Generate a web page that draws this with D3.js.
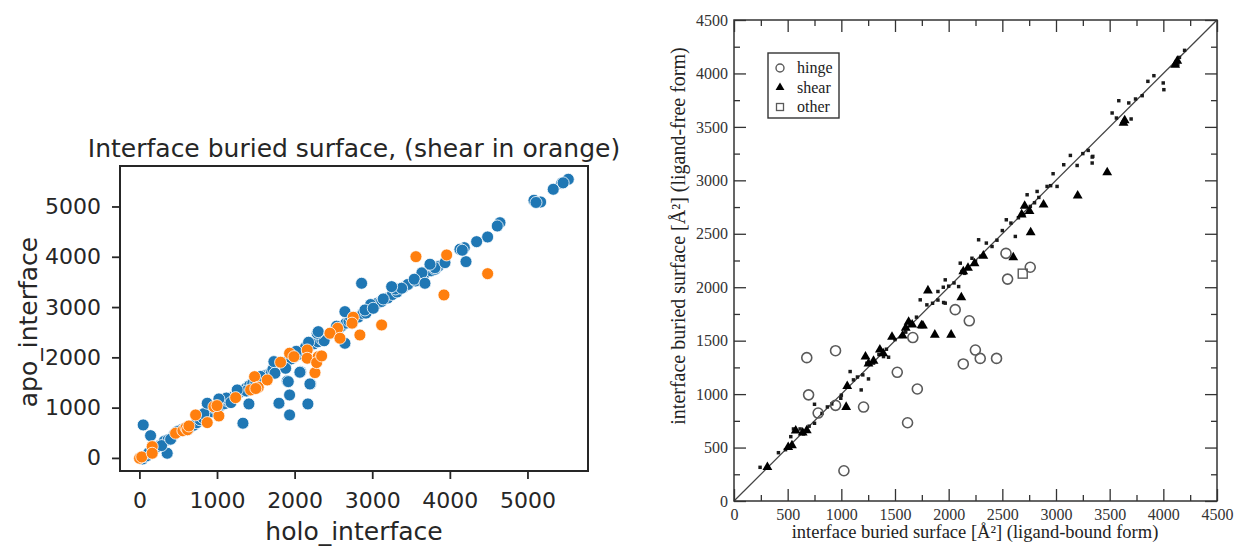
<!DOCTYPE html>
<html>
<head>
<meta charset="utf-8">
<script src="https://cdn.jsdelivr.net/npm/d3@7"></script>
<style>
  body { margin: 0; background: #fff; }
  svg { display: block; }
</style>
</head>
<body>
<svg width="1237" height="546"></svg>
<script>
// ---- left panel data: [holo_interface, apo_interface] ----
var blueBand = [
  [20,10],[40,-20],[60,30],[90,40],[120,100],[180,170],[230,220],[280,260],[320,330],[370,360],
  [410,380],[450,470],[500,520],[540,560],[580,580],[620,560],[650,600],[700,650],[740,700],[780,760],
  [820,800],[860,850],[900,900],[940,920],[980,980],[1020,1030],[1060,1050],[1100,1080],[1140,1130],[1180,1170],
  [1220,1230],[1260,1290],[1300,1310],[1340,1350],[1380,1390],[1420,1440],[1460,1480],[1500,1500],[1540,1560],[1580,1590],
  [1620,1640],[1660,1660],[1700,1700],[1760,1760],[1800,1820],[1850,1870],[1900,1910],[1960,1970],[2000,2010],[2050,2060],
  [2100,2120],[2140,2200],[2200,2230],[2250,2270],[2300,2310],[2350,2360],[2400,2420],[2450,2470],[2500,2500],[2560,2560],
  [2600,2620],[2660,2680],[2700,2720],[2760,2740],[2820,2800],[2880,2870],[2940,2930],[3000,2990],[3060,3070],[3120,3110],
  [3200,3180],[3260,3250],[3320,3300],[3400,3390],[3460,3450],[3560,3520],[3620,3620],[3700,3690],[3760,3720],[3850,3810],
  [1120,1190],[1380,1330],[1560,1620],[1720,1760],[2020,2120],[2180,2300],[2380,2330],[2540,2620],[2720,2800],[2980,3050],
  [3300,3360],[3640,3680],[2920,2880],[1180,1100],[830,880]
];
var blueOut = [
  [49,656],[144,443],[358,93],[286,245],[402,372],[487,523],[874,1087],[1024,1173],[1334,690],[1411,1074],
  [1798,1087],[1935,855],[1935,1252],[2171,1074],[1905,1531],[2077,1716],[2206,1471],[2291,2479],[1733,1915],[1260,1352],
  [1884,1783],[2863,3473],[2648,2909],[2648,2280],[2304,2511],[2906,2942],[3142,3161],[3379,3374],[3541,3553],[3679,3473],
  [3744,3837],[3808,3751],[3250,3406],[3013,2976],[1918,1517],[2197,1471],[2068,1704],[1746,1684],
  [5526,5541],[5441,5461],[5332,5342],[5084,5123],[5170,5089],[4646,4678],[4611,4612],[4487,4394],[4345,4300],[4186,4181],
  [4130,4149],[4208,3903],[3808,3783],[3744,3851],[3937,3883],[4160,4130],[5110,5080],[5460,5470]
];
var orangePts = [
  [2,-6],[30,20],[165,225],[165,93],[466,491],[560,540],[600,600],[620,560],[638,636],[724,855],
  [874,702],[960,1020],[1024,835],[1000,1040],[1240,1199],[1433,1352],[1484,1616],[1531,1406],[1500,1380],[1647,1551],
  [1819,1903],[1935,2082],[1991,2014],[2162,2147],[2162,1982],[2262,1696],[2304,2014],[2284,1895],[2348,2028],[3563,4002],
  [3959,4036],[3924,3241],[3121,2644],[2841,2445],[2755,2797],[2740,2680],[2554,2579],[2455,2479],[2584,2380],[4487,3664]
];
var leftTicks = [0, 1000, 2000, 3000, 4000, 5000];

// ---- right panel data: [ligand-bound, ligand-free] ----
var hingePts = [
  [678,1341],[946,1406],[695,993],[784,823],[946,895],[1207,879],[1024,283],[1521,1204],[1708,1048],[1617,732],
  [1666,1529],[2061,1790],[2192,1686],[2136,1282],[2249,1412],[2294,1334],[2446,1334],[2534,2317],[2549,2076],[2760,2187]
];
var shearPts = [
  [311,316],[505,504],[540,520],[575,657],[640,640],[678,660],[1055,1074],[1045,879],[1225,1350],[1253,1285],
  [1300,1310],[1359,1416],[1390,1380],[1472,1536],[1571,1546],[1600,1620],[1627,1676],[1660,1650],[1747,1643],[1760,1640],
  [1807,1969],[1871,1555],[2023,1555],[2118,1904],[2136,2148],[2180,2180],[2241,2223],[2323,2294],[2602,2278],[2680,2680],
  [2708,2760],[2753,2711],[2764,2512],[2884,2772],[3202,2857],[3477,3075],[3629,3537],[3640,3560],[4130,4117],[4110,4080]
];
var otherPts = [[2690,2127]];
var dotPts = [
  [243,315],[414,452],[480,480],[529,602],[554,674],[616,674],[647,627],[700,700],[750,905],[750,727],
  [820,820],[870,880],[911,908],[995,961],[1000,990],[1082,1211],[1113,1133],[1150,1160],[1185,1039],[1253,1142],
  [1238,1289],[1300,1290],[1393,1351],[1440,1345],[1420,1420],[1500,1510],[1560,1540],[1640,1650],[1700,1720],[1735,1882],
  [1797,1835],[1751,1632],[1850,1850],[1900,1880],[1953,1857],[1968,2069],[1968,1851],[2000,2010],[2050,2040],[2093,2006],
  [2108,2225],[2124,2147],[2150,2130],[2217,2271],[2250,2240],[2279,2444],[2351,2413],[2404,2381],[2450,2440],[2500,2530],
  [2537,2631],[2580,2600],[2621,2475],[2650,2650],[2731,2865],[2761,2756],[2800,2790],[2824,2896],[2917,2943],[2950,2950],
  [2973,3062],[3010,2943],[3072,3146],[3134,3233],[3197,3139],[3250,3250],[3300,3280],[3337,3162],[3343,3224],[3337,3218],
  [3523,3630],[3563,3583],[3585,3745],[3678,3724],[3700,3574],[3741,3761],[3803,3792],[3856,3926],[3912,3979],[3999,3911],
  [4005,3848],[4135,4082],[4198,4216],[4150,4150],[2840,2840],[2700,2680],[2300,2290],[1900,1960],[1950,2000],[1600,1580],
  [1350,1370],[1200,1180]
];
var rightMajor = [0,500,1000,1500,2000,2500,3000,3500,4000,4500];
var rightMinor = [250,750,1250,1750,2250,2750,3250,3750,4250];
var legendItems = ["hinge", "shear", "other"];

var svg = d3.select("svg");

// ================= left: seaborn style scatter =================
var sans = "DejaVu Sans, sans-serif";
var ink = "#262626";
var xL = d3.scaleLinear().domain([-250, 5780]).range([120, 588]);
var yL = d3.scaleLinear().domain([-260, 5805]).range([471, 166]);

var left = svg.append("g");

function dots(data, color) {
  left.append("g").selectAll("circle").data(data).enter()
    .append("circle")
    .attr("cx", function (d) { return xL(d[0]); })
    .attr("cy", function (d) { return yL(d[1]); })
    .attr("r", 6)
    .attr("fill", color)
    .attr("stroke", "#fff")
    .attr("stroke-width", 0.8);
}
dots(blueBand.concat(blueOut), "#1f77b4");
dots(orangePts, "#ff7f0e");

left.append("rect")
  .attr("x", 120).attr("y", 166).attr("width", 468).attr("height", 305)
  .attr("fill", "none").attr("stroke", ink).attr("stroke-width", 2);

var gxL = left.append("g").attr("transform", "translate(0,471)")
  .call(d3.axisBottom(xL).tickValues(leftTicks).tickSize(8).tickPadding(13).tickFormat(d3.format("d")));
var gyL = left.append("g").attr("transform", "translate(120,0)")
  .call(d3.axisLeft(yL).tickValues(leftTicks).tickSize(8).tickPadding(11).tickFormat(d3.format("d")));
[gxL, gyL].forEach(function (g) {
  g.select(".domain").remove();
  g.selectAll("line").attr("stroke", ink).attr("stroke-width", 1.8);
  g.selectAll("text").attr("fill", ink).style("font-family", sans).style("font-size", "22px");
});

left.append("text").attr("x", 354).attr("y", 157).attr("text-anchor", "middle")
  .style("font-family", sans).style("font-size", "25px").attr("fill", ink)
  .text("Interface buried surface, (shear in orange)");
left.append("text").attr("x", 354).attr("y", 540).attr("text-anchor", "middle")
  .style("font-family", sans).style("font-size", "25px").attr("fill", ink)
  .text("holo_interface");
left.append("text").attr("transform", "translate(37,322) rotate(-90)").attr("text-anchor", "middle")
  .style("font-family", sans).style("font-size", "25px").attr("fill", ink)
  .text("apo_interface");

// ================= right: grace style scatter =================
var serif = "Liberation Serif, Times New Roman, serif";
var xR = d3.scaleLinear().domain([0, 4500]).range([734, 1217]);
var yR = d3.scaleLinear().domain([0, 4500]).range([501, 20]);
var right = svg.append("g");

right.append("line")
  .attr("x1", xR(0)).attr("y1", yR(0)).attr("x2", xR(4500)).attr("y2", yR(4500))
  .attr("stroke", "#444").attr("stroke-width", 1.3);

right.append("g").selectAll("path").data(dotPts).enter().append("path")
  .attr("transform", function (d) { return "translate(" + xR(d[0]) + "," + yR(d[1]) + ")"; })
  .attr("d", d3.symbol(d3.symbolSquare, 12))
  .attr("fill", "#1a1a1a");

right.append("g").selectAll("path").data(shearPts).enter().append("path")
  .attr("transform", function (d) { return "translate(" + xR(d[0]) + "," + yR(d[1]) + ")"; })
  .attr("d", d3.symbol(d3.symbolTriangle, 42))
  .attr("fill", "#000");

right.append("g").selectAll("circle").data(hingePts).enter().append("circle")
  .attr("cx", function (d) { return xR(d[0]); })
  .attr("cy", function (d) { return yR(d[1]); })
  .attr("r", 5)
  .attr("fill", "none").attr("stroke", "#5a5a5a").attr("stroke-width", 1.6);

right.append("g").selectAll("rect").data(otherPts).enter().append("rect")
  .attr("x", function (d) { return xR(d[0]) - 4.5; })
  .attr("y", function (d) { return yR(d[1]) - 4.5; })
  .attr("width", 9).attr("height", 9)
  .attr("fill", "none").attr("stroke", "#5a5a5a").attr("stroke-width", 1.4);

right.append("rect")
  .attr("x", 734).attr("y", 20).attr("width", 483).attr("height", 481)
  .attr("fill", "none").attr("stroke", "#333").attr("stroke-width", 1.5);

function frameAxis(axis, tx, ty, vals, size, labels, pad) {
  var g = right.append("g").attr("transform", "translate(" + tx + "," + ty + ")")
    .call(axis.tickValues(vals).tickSize(-size).tickPadding(pad || 8).tickFormat(labels ? d3.format("d") : ""));
  g.select(".domain").remove();
  g.selectAll("line").attr("stroke", "#333").attr("stroke-width", 1.3);
  g.selectAll("text").attr("fill", "#333").style("font-family", serif).style("font-size", "16px");
  return g;
}
frameAxis(d3.axisBottom(xR), 0, 501, rightMajor, 12, true, 8);
frameAxis(d3.axisBottom(xR), 0, 501, rightMinor, 6, false);
frameAxis(d3.axisTop(xR), 0, 20, rightMajor, 12, false);
frameAxis(d3.axisTop(xR), 0, 20, rightMinor, 6, false);
frameAxis(d3.axisLeft(yR), 734, 0, rightMajor, 12, true, 6);
frameAxis(d3.axisLeft(yR), 734, 0, rightMinor, 6, false);
frameAxis(d3.axisRight(yR), 1217, 0, rightMajor, 12, false);
frameAxis(d3.axisRight(yR), 1217, 0, rightMinor, 6, false);

right.append("text").attr("x", 975).attr("y", 538).attr("text-anchor", "middle")
  .style("font-family", serif).style("font-size", "18.5px").attr("fill", "#222")
  .text("interface buried surface [Å²] (ligand-bound form)");
right.append("text").attr("transform", "translate(685,236) rotate(-90)").attr("text-anchor", "middle")
  .style("font-family", serif).style("font-size", "20px").attr("fill", "#222")
  .text("interface buried surface [Å²] (ligand-free form)");

// legend
var lg = right.append("g");
lg.append("rect").attr("x", 768).attr("y", 53).attr("width", 71).attr("height", 65)
  .attr("fill", "#fff").attr("stroke", "#333").attr("stroke-width", 1.4);
var ly = d3.scalePoint().domain(legendItems).range([68, 107]);
lg.append("circle").attr("cx", 780).attr("cy", ly("hinge")).attr("r", 4)
  .attr("fill", "none").attr("stroke", "#5a5a5a").attr("stroke-width", 1.4);
lg.append("path").attr("transform", "translate(780," + ly("shear") + ")")
  .attr("d", d3.symbol(d3.symbolTriangle, 34)).attr("fill", "#000");
lg.append("rect").attr("x", 776.5).attr("y", ly("other") - 3.5).attr("width", 7).attr("height", 7)
  .attr("fill", "none").attr("stroke", "#5a5a5a").attr("stroke-width", 1.3);
lg.selectAll("text.item").data(legendItems).enter().append("text")
  .attr("class", "item")
  .attr("x", 797).attr("y", function (d) { return ly(d) + 5; })
  .style("font-family", serif).style("font-size", "16px").attr("fill", "#222")
  .text(function (d) { return d; });
</script>
</body>
</html>
